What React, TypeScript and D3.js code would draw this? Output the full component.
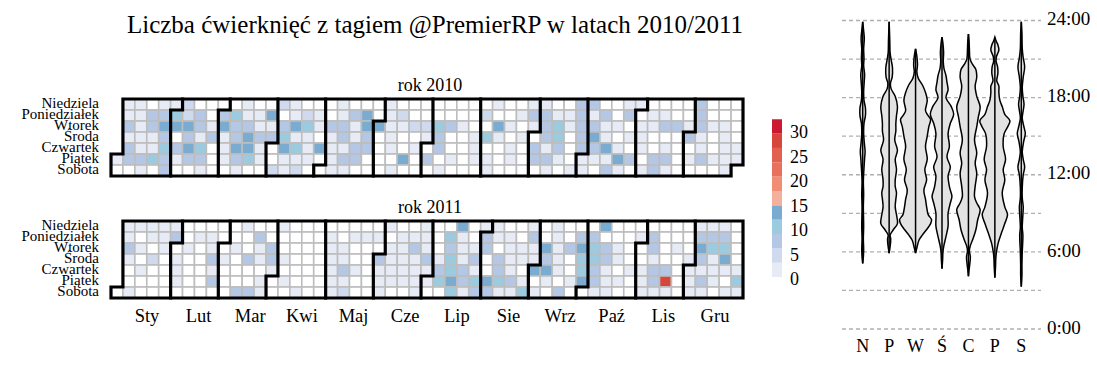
import React, { useEffect, useRef } from 'react';
import * as d3 from 'd3';

const title = 'Liczba ćwierknięć z tagiem @PremierRP w latach 2010/2011';
const years = [2010, 2011];
const dayNames = ['Niedziela', 'Poniedziałek', 'Wtorek', 'Środa', 'Czwartek', 'Piątek', 'Sobota'];
const monthNames = ['Sty', 'Lut', 'Mar', 'Kwi', 'Maj', 'Cze', 'Lip', 'Sie', 'Wrz', 'Paź', 'Lis', 'Gru'];

// tweets per day: one string per weekday (Sun..Sat), one base-36 char per week column, '-' = outside the year
const counts2010 = [
  '-220225000' + '0200520002' + '0002000000' + '0020022008' + '8002200008' + '000',
  '-2288a5808' + 'a22d025202' + '8d02500000' + '0500288228' + '2808022008' + '000',
  '-828ddd82d' + '88228db288' + '2dd2255a82' + '00d2028a28' + '8220228828' + '220',
  '-222808282' + '8d88a22028' + '2802002800' + '2b20208b08' + 'd202200082' + '020',
  '-822b8db02' + 'dd20da2d22' + '8802020800' + '2002082808' + '8d20202002' + '022',
  '288a828802' + '8a20222028' + '8000d08020' + '2202088202' + '22d8088028' + '222',
  '0020800200' + '2005250022' + '0002000200' + '0200002022' + '0820282000' + '02-',
];
const counts2011 = [
  '-222220000' + '0200200000' + '000200200d' + '0220020200' + '0d00000002' + '220',
  '-202280220' + '0080000020' + '22202220b2' + '0822080208' + '8000280008' + '880',
  '-820202020' + '2028000022' + '0002282082' + '280222d28d' + 'a82008020d' + 'bb0',
  '-205020082' + '0828200022' + '00822282b2' + '808222820a' + 'b820020028' + '2d0',
  '-020020020' + '0002000028' + '20222228a8' + '20820dd20a' + '8202288022' + '222',
  '-000020080' + '0020200022' + '0022222bd8' + 'bda820202d' + '822028s028' + '20b',
  '0200000000' + '8820020025' + '00200200b2' + '8822b20800' + '2200222022' + '022',
];
const countsByYear = [counts2010, counts2011];

const keyColors = ['#e6ebf6', '#cfdaef', '#b4c7e5', '#9ccbe0', '#7aabd1', '#f3b09a',
  '#f08d74', '#e8705c', '#e2604f', '#d7453b', '#cc1830'];
const keyTicks = [0, 5, 10, 15, 20, 25, 30];

// hour-of-day density of tweets, per weekday: [hour, relative density]
const violinDays = ['N', 'P', 'W', 'Ś', 'C', 'P', 'S'];
const sunProfile = [[5.1, 0], [5.6, .04], [6.2, .06], [7.0, .04], [8.0, .06], [9.5, .04], [10.5, .06], [11.5, .04], [12.5, .08], [13.3, .12], [13.8, .15], [14.5, .1], [15.2, .06], [16.0, .08], [16.6, .17], [17.2, .17], [17.8, .08], [18.5, .06], [19.3, .1], [19.8, .12], [20.5, .06], [21.0, .08], [21.8, .06], [22.6, .1], [23.2, .06], [23.9, 0]];
const monProfile = [[5.9, 0], [6.4, .06], [7.0, .1], [7.3, .06], [7.7, .25], [8.2, .52], [8.75, .48], [9.5, .38], [10.1, .42], [10.6, .46], [11.1, .38], [11.6, .38], [12.4, .46], [13.2, .38], [13.9, .52], [14.7, .35], [15.4, .42], [16.0, .42], [16.6, .46], [17.3, .52], [18.1, .38], [18.7, .12], [19.1, .08], [19.6, .19], [20.3, .21], [21.0, .12], [21.5, .06], [22.5, .04], [23.9, 0]];
const tueProfile = [[5.9, 0], [6.3, .08], [6.9, .21], [7.3, .42], [7.7, .67], [8.2, .94], [8.5, 1], [8.9, .79], [9.5, .69], [10.1, .62], [10.8, .52], [11.6, .69], [12.4, .58], [13.2, .73], [14.2, .62], [15.0, .73], [15.75, .83], [16.3, .94], [16.7, .73], [17.0, .62], [17.8, .73], [18.4, .62], [19.0, .42], [19.5, .17], [20.0, .08], [20.5, .12], [21.0, .1], [21.4, .06], [21.8, 0]];
const wedProfile = [[4.7, 0], [5.4, .04], [6.0, .06], [6.5, .12], [7.2, .25], [8.0, .38], [9.0, .38], [9.8, .52], [10.3, .62], [10.8, .52], [11.1, .46], [11.9, .38], [12.6, .52], [13.4, .31], [14.2, .46], [15.2, .38], [16.0, .52], [16.7, .73], [17.3, .58], [18.0, .25], [18.6, .38], [19.2, .31], [19.7, .25], [20.3, .12], [20.8, .08], [21.5, .1], [22.2, .06], [22.7, 0]];
const thuProfile = [[4.1, 0], [4.6, .04], [5.0, .08], [5.6, .12], [6.1, .06], [6.5, .12], [6.9, .25], [7.7, .46], [8.5, .58], [9.3, .73], [9.8, .52], [10.3, .38], [11.1, .42], [12.1, .52], [12.9, .42], [13.7, .52], [14.7, .38], [15.75, .52], [16.5, .62], [17.3, .73], [18.1, .52], [18.9, .42], [19.6, .52], [20.2, .46], [20.6, .25], [21.0, .1], [21.8, .06], [22.4, .04], [22.95, 0]];
const friProfile = [[4.0, 0], [4.8, .04], [5.5, .06], [6.0, .1], [6.7, .21], [7.5, .42], [8.2, .62], [8.9, .79], [9.5, .62], [10.6, .46], [11.6, .62], [12.4, .52], [13.2, .67], [14.2, .52], [15.2, .58], [15.8, .83], [16.2, .94], [16.7, .62], [17.3, .46], [17.8, .31], [18.4, .25], [18.9, .25], [19.3, .12], [19.9, .19], [20.4, .17], [20.8, .08], [21.2, .1], [21.7, .25], [22.1, .19], [22.4, .08], [22.7, 0]];
const satProfile = [[3.3, 0], [4.2, .04], [5.0, .04], [6.0, .06], [7.3, .1], [7.9, .06], [8.5, .08], [9.5, .12], [10.2, .06], [11.0, .06], [12.0, .12], [12.6, .21], [13.2, .12], [13.8, .06], [14.6, .15], [15.2, .25], [15.8, .15], [16.4, .06], [17.0, .12], [17.5, .17], [18.1, .1], [18.8, .06], [19.6, .12], [20.4, .21], [21.1, .12], [21.8, .06], [23.0, .04], [23.9, 0]];
const profiles = [sunProfile, monProfile, tueProfile, wedProfile, thuProfile, friProfile, satProfile];
const hourGrid = [0, 3, 6, 9, 12, 15, 18, 21, 24];
const hourLabels = [0, 6, 12, 18, 24];

const FONT = '"Liberation Serif", "DejaVu Serif", serif';

const App = () => {
  const svgRef = useRef(null);

  useEffect(() => {
    drawChart();
  }, []);

  const drawChart = () => {
    const svg = d3.select(svgRef.current);
    svg.selectAll('*').remove();

    svg.append('text')
      .attr('x', 435).attr('y', 33)
      .attr('text-anchor', 'middle')
      .attr('font-size', 25)
      .text(title);

    // ---- calendars
    const x = d3.scaleLinear().domain([0, 53]).range([111, 743]);
    const color = d3.scaleQuantize().domain([0.4, 32.6]).range(keyColors);
    const panelTops = [99, 221];
    const cellH = 11;

    years.forEach((year, yi) => {
      const top = panelTops[yi];
      const y = d3.scaleLinear().domain([0, 7]).range([top, top + 7 * cellH]);
      const g = svg.append('g');
      const rows = countsByYear[yi];
      const start = new Date(year, 0, 1);
      const days = d3.timeDays(start, new Date(year + 1, 0, 1));
      const cells = days.map(d => {
        const week = d3.timeWeek.count(start, d);
        const row = d.getDay();
        return { week, row, value: parseInt(rows[row][week], 36) || 0 };
      });

      g.selectAll('rect')
        .data(cells)
        .join('rect')
        .attr('x', d => x(d.week))
        .attr('y', d => y(d.row))
        .attr('width', x(1) - x(0))
        .attr('height', cellH)
        .attr('fill', d => d.value > 0 ? color(d.value) : '#ffffff')
        .attr('stroke', '#bdbdbd')
        .attr('stroke-width', 1.6);

      // month borders
      const yTop = y(0), yBot = y(7);
      const borders = d3.range(1, 12).map(m => {
        const d = new Date(year, m, 1);
        const w = d3.timeWeek.count(start, d);
        const r = d.getDay();
        if (r === 0) return `M${x(w)},${yTop}V${yBot}`;
        return `M${x(w + 1)},${yTop}V${y(r)}H${x(w)}V${yBot}`;
      });
      const first = cells[0], last = cells[cells.length - 1];
      let outline = `M${x(first.row > 0 ? 1 : 0)},${yTop}H${x(last.week + 1)}`;
      if (last.row < 6) outline += `V${y(last.row + 1)}H${x(last.week)}`;
      outline += `V${yBot}H${x(0)}`;
      if (first.row > 0) outline += `V${y(first.row)}H${x(1)}`;
      outline += 'Z';

      g.selectAll('path')
        .data([...borders, outline])
        .join('path')
        .attr('d', d => d)
        .attr('fill', 'none')
        .attr('stroke', '#000')
        .attr('stroke-width', 3.2)
        .attr('stroke-linejoin', 'miter')
        .attr('stroke-linecap', 'square');

      g.selectAll('text.day')
        .data(dayNames)
        .join('text')
        .attr('class', 'day')
        .attr('x', 99)
        .attr('y', (d, i) => y(i) + cellH / 2 + 3.5)
        .attr('text-anchor', 'end')
        .attr('font-size', 15)
        .text(d => d);

      g.append('text')
        .attr('x', 430).attr('y', top - 8)
        .attr('text-anchor', 'middle')
        .attr('font-size', 18)
        .text(`rok ${year}`);
    });

    const monthX = d3.scalePoint().domain(d3.range(12)).range([147, 715]);
    svg.append('g').selectAll('text')
      .data(monthNames)
      .join('text')
      .attr('x', (d, i) => monthX(i))
      .attr('y', 322)
      .attr('text-anchor', 'middle')
      .attr('font-size', 18.5)
      .text(d => d);

    // ---- colour key
    const keyY = d3.scaleLinear().domain([0, 30]).range([279, 132]);
    const key = svg.append('g');
    key.selectAll('rect')
      .data(keyColors)
      .join('rect')
      .attr('x', 772)
      .attr('width', 10)
      .attr('y', c => keyY(color.invertExtent(c)[1]))
      .attr('height', c => keyY(color.invertExtent(c)[0]) - keyY(color.invertExtent(c)[1]))
      .attr('fill', c => c);
    key.selectAll('text')
      .data(keyTicks)
      .join('text')
      .attr('x', 790)
      .attr('y', d => keyY(d))
      .attr('dy', '0.35em')
      .attr('font-size', 18)
      .text(d => d);

    // ---- violins
    const hy = d3.scaleLinear().domain([0, 24]).range([329, 20.5]);
    const vx = d3.scaleLinear().domain([0, 6]).range([862.7, 1021.3]);
    const vw = d3.scaleLinear().domain([0, 1]).range([0, 16]);
    const vg = svg.append('g');

    vg.selectAll('line.grid')
      .data(hourGrid)
      .join('line')
      .attr('class', 'grid')
      .attr('x1', 842).attr('x2', 1041)
      .attr('y1', d => hy(d)).attr('y2', d => hy(d))
      .attr('stroke', '#b0b0b0')
      .attr('stroke-width', 1.3)
      .attr('stroke-dasharray', '4,3');

    vg.selectAll('text.hour')
      .data(hourLabels)
      .join('text')
      .attr('class', 'hour')
      .attr('x', 1047)
      .attr('y', d => hy(d) - 2)
      .attr('dy', '0.35em')
      .attr('font-size', 19)
      .text(d => `${d}:00`);

    profiles.forEach((p, i) => {
      const cx = vx(i);
      const area = d3.area()
        .y(d => hy(d[0]))
        .x0(d => cx - vw(d[1]))
        .x1(d => cx + vw(d[1]))
        .curve(d3.curveCatmullRom);
      vg.append('path')
        .attr('d', area(p))
        .attr('fill', '#e3e3e3')
        .attr('stroke', '#000')
        .attr('stroke-width', 1.5);
      vg.append('line')
        .attr('x1', cx).attr('x2', cx)
        .attr('y1', hy(p[0][0])).attr('y2', hy(p[p.length - 1][0]))
        .attr('stroke', '#000')
        .attr('stroke-width', 1.5);
    });

    vg.selectAll('text.vday')
      .data(violinDays)
      .join('text')
      .attr('class', 'vday')
      .attr('x', (d, i) => vx(i))
      .attr('y', 352)
      .attr('text-anchor', 'middle')
      .attr('font-size', 18)
      .text(d => d);
  };

  return (
    <svg ref={svgRef} width={1097} height={368}
      style={{ position: 'absolute', left: 0, top: 0, fontFamily: FONT, background: '#fff' }} />
  );
};

export default App;
